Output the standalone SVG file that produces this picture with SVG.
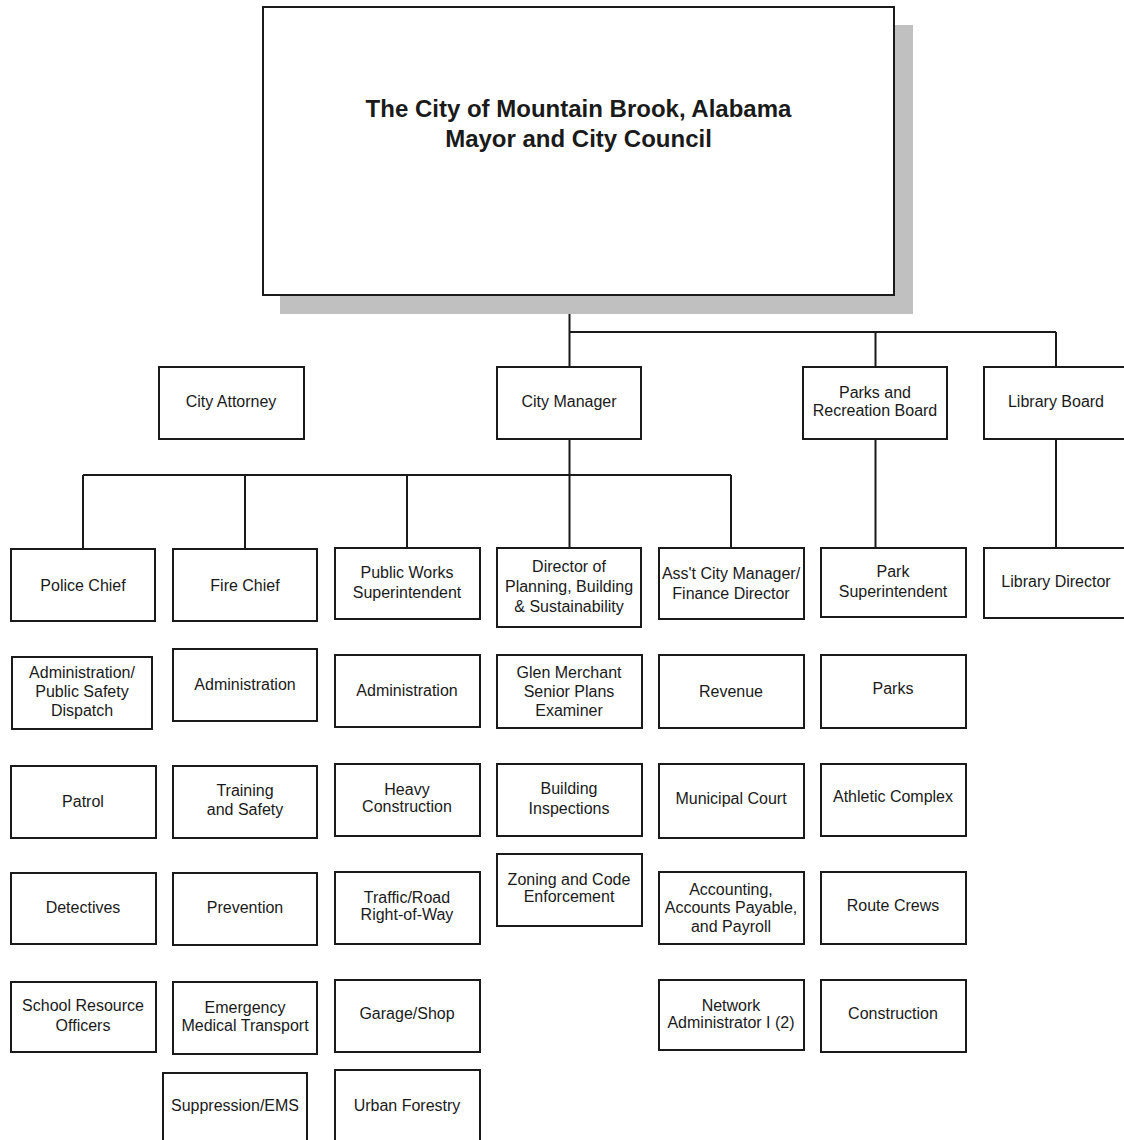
<svg xmlns="http://www.w3.org/2000/svg" width="1124" height="1140" viewBox="0 0 1124 1140">
<style>
.box{fill:#fff;stroke:#1a1a1a;stroke-width:2}
.lbl{font-family:"Liberation Sans",Arial,sans-serif;font-size:16px;text-anchor:middle;fill:#1a1a1a}
.title{font-family:"Liberation Sans",Arial,sans-serif;font-size:24px;font-weight:bold;text-anchor:middle;fill:#1a1a1a}
.conn{fill:none;stroke:#1a1a1a;stroke-width:2}
</style>
<rect width="1124" height="1140" fill="#fff"/>
<g id="connectors">
<path class="conn" d="M569.5,295V367M569.5,332H1056M875.5,332V367M1056,332V367"/>
<path class="conn" d="M569.5,439V548M83,475H731M83,475V549M245,475V549M407,475V548M731,475V548"/>
<path class="conn" d="M875.5,439V548M1056,439V548"/>
</g>
<g id="mayor-council">
<rect x="280" y="25" width="633" height="289" fill="#c0c0c0"/>
<rect class="box" x="263" y="7" width="631" height="288"/>
<text class="title" x="578.5" y="117">The City of Mountain Brook, Alabama</text>
<text class="title" x="578.5" y="147">Mayor and City Council</text>
</g>
<g id="city-attorney"><rect class="box" x="159" y="367" width="145" height="72"/><text class="lbl" x="231" y="407">City Attorney</text></g>
<g id="city-manager"><rect class="box" x="497" y="367" width="144" height="72"/><text class="lbl" x="569" y="407">City Manager</text></g>
<g id="parks-board"><rect class="box" x="803" y="367" width="144" height="72"/><text class="lbl" x="875" y="398">Parks and</text><text class="lbl" x="875" y="416">Recreation Board</text></g>
<g id="library-board"><rect class="box" x="984" y="367" width="144" height="72"/><text class="lbl" x="1056" y="407">Library Board</text></g>

<g id="police-chief"><rect class="box" x="11" y="549" width="144" height="72"/><text class="lbl" x="83" y="591">Police Chief</text></g>
<g id="fire-chief"><rect class="box" x="173" y="549" width="144" height="72"/><text class="lbl" x="245" y="591">Fire Chief</text></g>
<g id="public-works"><rect class="box" x="335" y="548" width="145" height="71"/><text class="lbl" x="407" y="578">Public Works</text><text class="lbl" x="407" y="598">Superintendent</text></g>
<g id="director-planning"><rect class="box" x="497" y="548" width="144" height="79"/><text class="lbl" x="569" y="572">Director of</text><text class="lbl" x="569" y="592">Planning, Building</text><text class="lbl" x="569" y="612">&amp; Sustainability</text></g>
<g id="asst-city-manager"><rect class="box" x="659" y="548" width="145" height="71"/><text class="lbl" x="731" y="579">Ass't City Manager/</text><text class="lbl" x="731" y="599">Finance Director</text></g>
<g id="park-superintendent"><rect class="box" x="821" y="548" width="145" height="69"/><text class="lbl" x="893" y="577">Park</text><text class="lbl" x="893" y="597">Superintendent</text></g>
<g id="library-director"><rect class="box" x="984" y="548" width="144" height="70"/><text class="lbl" x="1056" y="587">Library Director</text></g>

<g id="police-admin"><rect class="box" x="12" y="657" width="140" height="72"/><text class="lbl" x="82" y="678">Administration/</text><text class="lbl" x="82" y="697">Public Safety</text><text class="lbl" x="82" y="716">Dispatch</text></g>
<g id="fire-admin"><rect class="box" x="173" y="649" width="144" height="72"/><text class="lbl" x="245" y="690">Administration</text></g>
<g id="pw-admin"><rect class="box" x="335" y="655" width="145" height="72"/><text class="lbl" x="407" y="696">Administration</text></g>
<g id="glen-merchant"><rect class="box" x="497" y="655" width="145" height="73"/><text class="lbl" x="569" y="678">Glen Merchant</text><text class="lbl" x="569" y="697">Senior Plans</text><text class="lbl" x="569" y="716">Examiner</text></g>
<g id="revenue"><rect class="box" x="659" y="655" width="145" height="73"/><text class="lbl" x="731" y="697">Revenue</text></g>
<g id="parks"><rect class="box" x="821" y="655" width="145" height="73"/><text class="lbl" x="893" y="694">Parks</text></g>

<g id="patrol"><rect class="box" x="11" y="766" width="145" height="72"/><text class="lbl" x="83" y="807">Patrol</text></g>
<g id="training"><rect class="box" x="173" y="766" width="144" height="72"/><text class="lbl" x="245" y="796">Training</text><text class="lbl" x="245" y="815">and Safety</text></g>
<g id="heavy-construction"><rect class="box" x="335" y="764" width="145" height="72"/><text class="lbl" x="407" y="795">Heavy</text><text class="lbl" x="407" y="812">Construction</text></g>
<g id="building-inspections"><rect class="box" x="497" y="764" width="145" height="72"/><text class="lbl" x="569" y="794">Building</text><text class="lbl" x="569" y="814">Inspections</text></g>
<g id="municipal-court"><rect class="box" x="659" y="764" width="145" height="74"/><text class="lbl" x="731" y="804">Municipal Court</text></g>
<g id="athletic-complex"><rect class="box" x="821" y="764" width="145" height="72"/><text class="lbl" x="893" y="802">Athletic Complex</text></g>

<g id="detectives"><rect class="box" x="11" y="873" width="145" height="71"/><text class="lbl" x="83" y="913">Detectives</text></g>
<g id="prevention"><rect class="box" x="173" y="873" width="144" height="72"/><text class="lbl" x="245" y="913">Prevention</text></g>
<g id="traffic-road"><rect class="box" x="335" y="872" width="145" height="72"/><text class="lbl" x="407" y="903">Traffic/Road</text><text class="lbl" x="407" y="920">Right-of-Way</text></g>
<g id="zoning"><rect class="box" x="497" y="854" width="145" height="72"/><text class="lbl" x="569" y="885">Zoning and Code</text><text class="lbl" x="569" y="902">Enforcement</text></g>
<g id="accounting"><rect class="box" x="659" y="872" width="145" height="72"/><text class="lbl" x="731" y="895">Accounting,</text><text class="lbl" x="731" y="913">Accounts Payable,</text><text class="lbl" x="731" y="932">and Payroll</text></g>
<g id="route-crews"><rect class="box" x="821" y="872" width="145" height="72"/><text class="lbl" x="893" y="911">Route Crews</text></g>

<g id="school-resource"><rect class="box" x="11" y="982" width="145" height="70"/><text class="lbl" x="83" y="1011">School Resource</text><text class="lbl" x="83" y="1031">Officers</text></g>
<g id="emergency-medical"><rect class="box" x="173" y="982" width="144" height="72"/><text class="lbl" x="245" y="1013">Emergency</text><text class="lbl" x="245" y="1031">Medical Transport</text></g>
<g id="garage-shop"><rect class="box" x="335" y="980" width="145" height="72"/><text class="lbl" x="407" y="1019">Garage/Shop</text></g>
<g id="network-admin"><rect class="box" x="659" y="980" width="145" height="70"/><text class="lbl" x="731" y="1011">Network</text><text class="lbl" x="731" y="1028">Administrator I (2)</text></g>
<g id="construction"><rect class="box" x="821" y="980" width="145" height="72"/><text class="lbl" x="893" y="1019">Construction</text></g>

<g id="suppression-ems"><rect class="box" x="163" y="1073" width="144" height="72"/><text class="lbl" x="235" y="1111">Suppression/EMS</text></g>
<g id="urban-forestry"><rect class="box" x="335" y="1070" width="145" height="75"/><text class="lbl" x="407" y="1111">Urban Forestry</text></g>
</svg>
